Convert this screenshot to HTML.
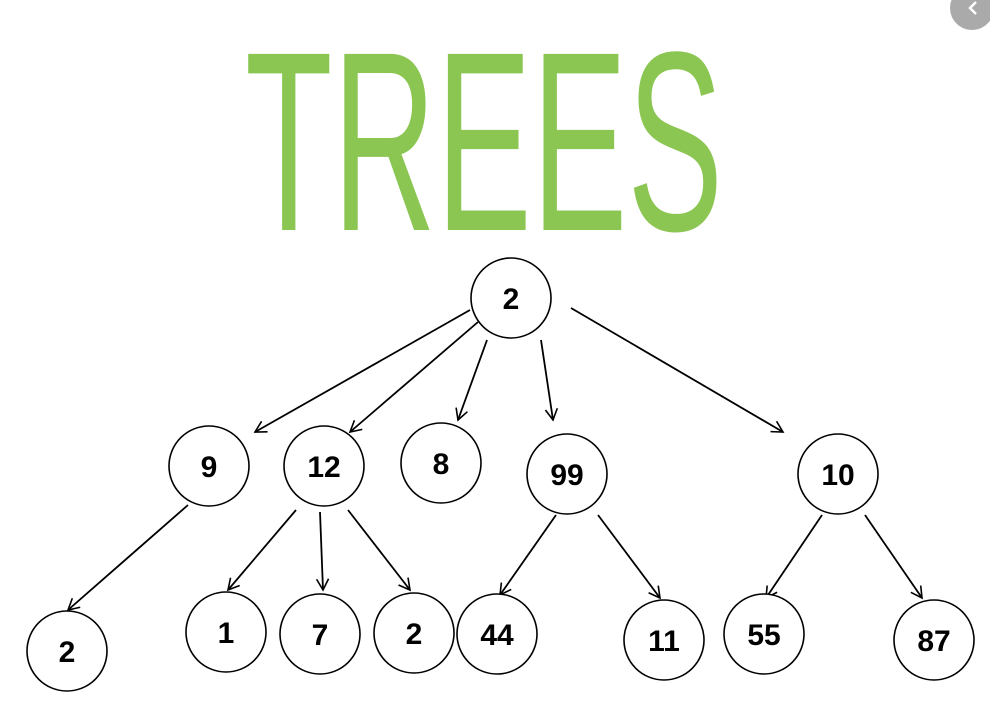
<!DOCTYPE html>
<html><head><meta charset="utf-8"><style>
html,body{margin:0;padding:0;background:#fff;width:990px;height:728px;overflow:hidden}
</style></head><body>
<svg width="990" height="728" viewBox="0 0 990 728" xmlns="http://www.w3.org/2000/svg">
<defs><marker id="a" markerWidth="14" markerHeight="14" refX="12" refY="7" orient="auto" markerUnits="userSpaceOnUse"><path d="M1,1 L12,7 L1,13" fill="none" stroke="#000" stroke-width="1.6"/></marker></defs>
<circle cx="972" cy="8" r="22" fill="#aaa"/>
<path d="M976,2 L970,8 L976,14" fill="none" stroke="#fff" stroke-width="2.5"/>
<text x="245" y="230" font-family="Liberation Sans, sans-serif" font-size="256" fill="#8bc653" textLength="478" lengthAdjust="spacingAndGlyphs">TREES</text>
<g stroke="#000" stroke-width="1.8" fill="none" marker-end="url(#a)">
<line x1="470" y1="310" x2="255" y2="432"/>
<line x1="478" y1="322" x2="350" y2="432"/>
<line x1="487" y1="340" x2="458" y2="420"/>
<line x1="541" y1="340" x2="553" y2="420"/>
<line x1="571" y1="308" x2="783" y2="432"/>
<line x1="188" y1="505" x2="68" y2="610"/>
<line x1="296" y1="510" x2="228" y2="590"/>
<line x1="320" y1="512" x2="323" y2="590"/>
<line x1="348" y1="510" x2="410" y2="590"/>
<line x1="556" y1="515" x2="500" y2="595"/>
<line x1="598" y1="515" x2="660" y2="598"/>
<line x1="822" y1="515" x2="766" y2="598"/>
<line x1="865" y1="515" x2="922" y2="598"/>
</g>
<g stroke="#000" stroke-width="1.6" fill="#fff">
<circle cx="511" cy="298" r="40"/>
<circle cx="209" cy="466" r="40"/>
<circle cx="324" cy="466" r="40"/>
<circle cx="441" cy="463" r="40"/>
<circle cx="567" cy="474" r="40"/>
<circle cx="838" cy="474" r="40"/>
<circle cx="67" cy="651" r="40"/>
<circle cx="226" cy="632" r="40"/>
<circle cx="320" cy="634" r="40"/>
<circle cx="414" cy="633" r="40"/>
<circle cx="497" cy="634" r="40"/>
<circle cx="664" cy="640" r="40"/>
<circle cx="764" cy="634" r="40"/>
<circle cx="934" cy="640" r="40"/>
</g>
<g font-family="Liberation Sans, sans-serif" font-weight="bold" font-size="30" text-anchor="middle" fill="#000">
<text x="511" y="309">2</text>
<text x="209" y="477">9</text>
<text x="324" y="477">12</text>
<text x="441" y="474">8</text>
<text x="567" y="485">99</text>
<text x="838" y="485">10</text>
<text x="67" y="662">2</text>
<text x="226" y="643">1</text>
<text x="320" y="645">7</text>
<text x="414" y="644">2</text>
<text x="497" y="645">44</text>
<text x="664" y="651">11</text>
<text x="764" y="645">55</text>
<text x="934" y="651">87</text>
</g>
</svg>
</body></html>
